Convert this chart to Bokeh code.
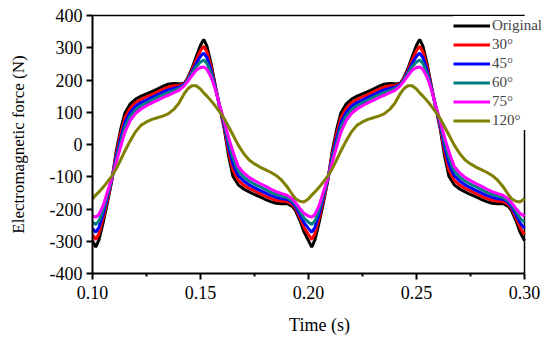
from bokeh.plotting import figure
from bokeh.models import (Legend, LegendItem, Range1d, SingleIntervalTicker, FixedTicker,
                          NumeralTickFormatter, LinearAxis)
from bokeh.embed import file_html
from bokeh.resources import INLINE

time_s = [0.1000, 0.1015, 0.1030, 0.1050, 0.1070, 0.1090, 0.1110, 0.1130, 0.1150, 0.1175,
          0.1200, 0.1225, 0.1250, 0.1275, 0.1300, 0.1325, 0.1350, 0.1375, 0.1400, 0.1425,
          0.1440, 0.1460, 0.1480, 0.1500, 0.1515, 0.1530, 0.1550, 0.1570, 0.1590, 0.1610,
          0.1630, 0.1650, 0.1675, 0.1700, 0.1725, 0.1750, 0.1775, 0.1800, 0.1825, 0.1850,
          0.1875, 0.1900, 0.1925, 0.1940, 0.1960, 0.1980,
          0.2000, 0.2015, 0.2030, 0.2050, 0.2070, 0.2090, 0.2110, 0.2130, 0.2150, 0.2175,
          0.2200, 0.2225, 0.2250, 0.2275, 0.2300, 0.2325, 0.2350, 0.2375, 0.2400, 0.2425,
          0.2440, 0.2460, 0.2480, 0.2500, 0.2515, 0.2530, 0.2550, 0.2570, 0.2590, 0.2610,
          0.2630, 0.2650, 0.2675, 0.2700, 0.2725, 0.2750, 0.2775, 0.2800, 0.2825, 0.2850,
          0.2875, 0.2900, 0.2925, 0.2940, 0.2960, 0.2980, 0.3000]

original = [-298, -318, -296, -240, -178, -110, -20, 45, 98, 126,
            141, 150, 157, 164, 172, 180, 187, 189, 188, 190,
            205, 235, 272, 308, 326, 305, 248, 178, 112, 48,
            -35, -98, -125, -138, -147, -155, -162, -170, -177, -182,
            -184, -183, -192, -205, -235, -272,
            -298, -318, -296, -240, -178, -110, -20, 45, 98, 126,
            141, 150, 157, 164, 172, 180, 187, 189, 188, 190,
            205, 235, 272, 308, 326, 305, 248, 178, 112, 48,
            -35, -98, -125, -138, -147, -155, -162, -170, -177, -182,
            -184, -183, -192, -205, -235, -272, -298]

deg30 = [-279, -295, -276, -227, -170, -108, -29, 32, 83, 113,
         130, 140, 148, 155, 163, 171, 178, 182, 183, 188,
         203, 230, 262, 291, 305, 287, 238, 176, 114, 54,
         -21, -79, -111, -126, -136, -144, -152, -160, -167, -173,
         -176, -177, -186, -199, -226, -258,
         -279, -295, -276, -227, -170, -108, -29, 32, 83, 113,
         130, 140, 148, 155, 163, 171, 178, 182, 183, 188,
         203, 230, 262, 291, 305, 287, 238, 176, 114, 54,
         -21, -79, -111, -126, -136, -144, -152, -160, -167, -173,
         -176, -177, -186, -199, -226, -258, -279]

deg45 = [-260, -272, -257, -214, -161, -106, -37, 18, 68, 100,
         119, 130, 138, 146, 154, 162, 169, 174, 178, 186,
         200, 224, 251, 274, 283, 269, 228, 173, 115, 60,
         -7, -60, -97, -113, -125, -134, -142, -150, -158, -164,
         -168, -170, -180, -193, -217, -243,
         -260, -272, -257, -214, -161, -106, -37, 18, 68, 100,
         119, 130, 138, 146, 154, 162, 169, 174, 178, 186,
         200, 224, 251, 274, 283, 269, 228, 173, 115, 60,
         -7, -60, -97, -113, -125, -134, -142, -150, -158, -164,
         -168, -170, -180, -193, -217, -243, -260]

deg60 = [-241, -248, -237, -201, -153, -105, -46, 5, 53, 88,
         108, 120, 129, 138, 146, 154, 161, 167, 173, 184,
         198, 219, 241, 256, 262, 251, 218, 171, 117, 66,
         8, -41, -82, -101, -113, -123, -131, -139, -148, -155,
         -160, -164, -174, -186, -207, -229,
         -241, -248, -237, -201, -153, -105, -46, 5, 53, 88,
         108, 120, 129, 138, 146, 154, 161, 167, 173, 184,
         198, 219, 241, 256, 262, 251, 218, 171, 117, 66,
         8, -41, -82, -101, -113, -123, -131, -139, -148, -155,
         -160, -164, -174, -186, -207, -229, -241]

deg75 = [-222, -225, -217, -188, -145, -103, -55, -8, 38, 75,
         97, 110, 120, 129, 137, 145, 152, 160, 168, 182,
         195, 213, 230, 239, 240, 233, 208, 168, 118, 72,
         22, -22, -68, -88, -102, -112, -121, -129, -138, -146,
         -152, -157, -168, -180, -198, -214,
         -222, -225, -217, -188, -145, -103, -55, -8, 38, 75,
         97, 110, 120, 129, 137, 145, 152, 160, 168, 182,
         195, 213, 230, 239, 240, 233, 208, 168, 118, 72,
         22, -22, -68, -88, -102, -112, -121, -129, -138, -146,
         -152, -157, -168, -180, -198, -214, -222]

deg120 = [-168, -157, -147, -132, -115, -97, -75, -48, -20, 12,
          40, 60, 70, 78, 83, 88, 95, 108, 128, 158,
          172, 182, 182, 172, 160, 150, 135, 118, 100, 80,
          55, 30, -2, -28, -48, -60, -70, -78, -86, -96,
          -110, -130, -155, -168, -176, -178,
          -168, -157, -147, -132, -115, -97, -75, -48, -20, 12,
          40, 60, 70, 78, 83, 88, 95, 108, 128, 158,
          172, 182, 182, 172, 160, 150, 135, 118, 100, 80,
          55, 30, -2, -28, -48, -60, -70, -78, -86, -96,
          -110, -130, -155, -168, -176, -178, -168]

x_ticks = [0.10, 0.15, 0.20, 0.25, 0.30]
x_minor_ticks = [0.125, 0.175, 0.225, 0.275]

series = [original, deg30, deg45, deg60, deg75, deg120]
labels = ["Original", "30°", "45°", "60°", "75°", "120°"]
colors = ["#000000", "#FF0000", "#0000FF", "#008080", "#FF00FF", "#808000"]

FONT = "Liberation Serif"
X_START, X_END, X_VIEW_END = 0.10, 0.30, 0.3102

p = figure(frame_width=454, frame_height=258,
           x_range=Range1d(X_START, X_VIEW_END), y_range=Range1d(-400, 400),
           output_backend="svg", toolbar_location=None,
           min_border_left=92, min_border_right=2, min_border_top=15, min_border_bottom=63)
p.xgrid.grid_line_color = None
p.ygrid.grid_line_color = None
p.outline_line_color = None

# right spine of the frame, at the end of the time axis
p.vspan(x=[X_END], line_color="black", line_width=1.5)

renderers = []
for ys, c in zip(series, colors):
    r = p.line(time_s, ys, line_color=c, line_width=3)
    renderers.append(r)

p.xaxis.ticker = FixedTicker(ticks=x_ticks, minor_ticks=x_minor_ticks)
p.xaxis.formatter = NumeralTickFormatter(format="0.00")
p.xaxis.bounds = (X_START, X_END)
p.yaxis.ticker = SingleIntervalTicker(interval=100, num_minor_ticks=0)
p.yaxis.formatter = NumeralTickFormatter(format="0")

for ax in (p.xaxis[0], p.yaxis[0]):
    ax.axis_line_width = 2
    ax.major_tick_line_width = 2
    ax.minor_tick_line_width = 2
    ax.major_tick_out = 6
    ax.major_tick_in = 0
    ax.minor_tick_out = 3
    ax.minor_tick_in = 0
    ax.major_label_text_font = FONT
    ax.major_label_text_font_size = "18px"
    ax.major_label_text_font_style = "normal"
    ax.major_label_text_color = "black"
    ax.axis_label_text_font = FONT
    ax.axis_label_text_font_size = "17px"
    ax.axis_label_text_font_style = "normal"
    ax.axis_label_text_color = "black"

p.xaxis.axis_label = "Time (s)"
p.xaxis.axis_label_text_font_size = "18px"
p.yaxis.axis_label = "Electromagnetic force (N)"
p.xaxis.major_label_standoff = 6
p.yaxis.major_label_standoff = 4
p.xaxis.axis_label_standoff = 13
p.yaxis.axis_label_standoff = 19

# top spine (frame line, no ticks, no labels)
top = LinearAxis(bounds=(X_START, X_END), axis_line_width=1.5,
                 ticker=FixedTicker(ticks=[]),
                 major_tick_out=0, major_tick_in=0, minor_tick_out=0, minor_tick_in=0)
p.add_layout(top, "above")

items = [LegendItem(label=lab, renderers=[r]) for lab, r in zip(labels, renderers)]
legend = Legend(items=items, location=(361, 143), orientation="vertical",
                background_fill_color="white", background_fill_alpha=1.0,
                border_line_color=None, padding=0, margin=0, spacing=0,
                glyph_width=37, glyph_height=19, label_height=19, label_standoff=2,
                label_text_font=FONT, label_text_font_size="15px", level="overlay")
p.add_layout(legend)

open("out.html", "w").write(file_html(p, INLINE))
